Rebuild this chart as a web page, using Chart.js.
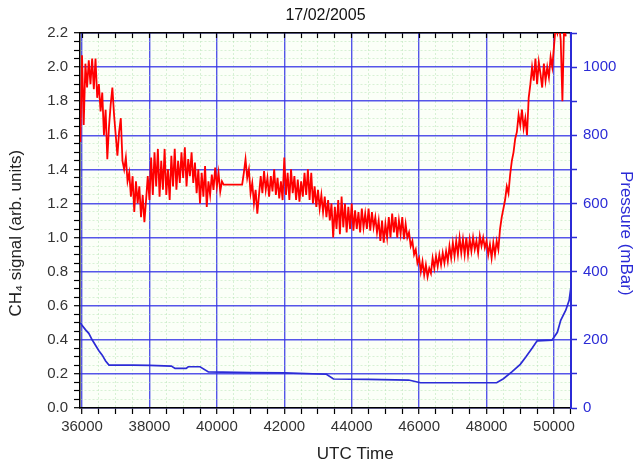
<!DOCTYPE html>
<html>
<head>
<meta charset="utf-8">
<script src="https://cdn.jsdelivr.net/npm/chart.js@4"></script>
<style>
  html, body { margin: 0; padding: 0; background: #fff; }
</style>
</head>
<body>
<canvas id="chart" width="644" height="465"></canvas>
<script>
/* ================================
   DATA
================================ */

// CH4 signal, one sample every 50 s starting at 35950 s
const CH4_START = 35950;
const CH4_STEP = 50;
const ch4 = [
  1.56,
  2.07, 1.66, 2.02, 1.88, 2.04, 1.90, 2.05, 1.87, 2.05, 1.82, 1.90, 1.74, 1.85, 1.60, 1.75, 1.46, 1.65, 1.78, 1.88, 1.72,
  1.60, 1.48, 1.62, 1.70, 1.45, 1.40, 1.47, 1.33, 1.38, 1.24, 1.36, 1.15, 1.33, 1.20, 1.30, 1.12, 1.25, 1.09, 1.22, 1.36,
  1.22, 1.47, 1.25, 1.50, 1.30, 1.52, 1.24, 1.45, 1.28, 1.52, 1.25, 1.40, 1.22, 1.48, 1.30, 1.52, 1.28, 1.45, 1.32, 1.50,
  1.35, 1.53, 1.30, 1.46, 1.36, 1.50, 1.32, 1.44, 1.26, 1.40, 1.20, 1.38, 1.24, 1.42, 1.18, 1.33, 1.25, 1.37, 1.28, 1.41,
  1.30, 1.38, 1.27, 1.33, 1.31, 1.31, 1.31, 1.31, 1.31, 1.31, 1.31, 1.31, 1.31, 1.31, 1.31, 1.31, 1.38, 1.46, 1.35, 1.40,
  1.26, 1.32, 1.20, 1.28, 1.14, 1.25, 1.36, 1.26, 1.39, 1.28, 1.35, 1.24, 1.36, 1.27, 1.40, 1.25, 1.35, 1.23, 1.33, 1.22,
  1.47, 1.25, 1.38, 1.22, 1.40, 1.26, 1.36, 1.22, 1.34, 1.21, 1.33, 1.24, 1.38, 1.25, 1.40, 1.22, 1.38, 1.20, 1.30, 1.18,
  1.28, 1.17, 1.25, 1.15, 1.24, 1.12, 1.22, 1.10, 1.20, 1.00, 1.18, 1.05, 1.22, 1.02, 1.24, 1.06, 1.20, 1.03, 1.18, 1.05,
  1.20, 1.04, 1.16, 1.05, 1.15, 1.03, 1.17, 1.06, 1.14, 1.05, 1.17, 1.04, 1.15, 1.06, 1.12, 1.03, 1.10, 0.98, 1.10, 0.97,
  1.08, 1.00, 1.12, 1.00, 1.14, 1.03, 1.12, 1.00, 1.10, 1.02, 1.12, 0.99, 1.08, 1.00, 1.03, 0.95, 0.98, 0.90, 0.93, 0.85,
  0.88, 0.80, 0.86, 0.78, 0.84, 0.77, 0.82, 0.79, 0.88, 0.82, 0.89, 0.83, 0.90, 0.84, 0.91, 0.85, 0.92, 0.86, 0.95, 0.88,
  0.97, 0.89, 0.98, 0.90, 1.00, 0.91, 0.99, 0.90, 1.00, 0.90, 0.99, 0.92, 1.00, 0.93, 0.98, 0.91, 1.01, 0.95, 1.00, 0.94,
  0.98, 0.90, 0.96, 0.88, 0.97, 0.90, 0.98, 0.93, 1.05, 1.12, 1.17, 1.22, 1.30, 1.26, 1.37, 1.45, 1.50, 1.58, 1.62, 1.72,
  1.66, 1.75, 1.64, 1.70, 1.60, 1.82, 1.90, 2.00, 1.92, 2.05, 1.90, 2.03, 1.96, 1.88, 2.02, 1.92, 2.00, 1.94, 2.06, 2.00,
  2.12, 2.24, 2.20, 2.26, 2.16, 1.80, 2.25, 2.18
];

// pressure (mBar) at its break points
const pTimes = [35950, 36000, 36100, 36200, 36300, 36400, 36500, 36600, 36700, 36800, 37500, 38000, 38650, 38760,
  39090, 39150, 39500, 39750, 41000, 42000, 43250, 43460, 44500, 45690, 46040, 48300, 48500, 48750, 49000, 49170,
  49350, 49500, 49940, 50100, 50200, 50350, 50450, 50510];
const pressure = [250, 243, 230, 219, 200, 184, 168, 155, 138, 126, 126, 125, 123, 116,
  116, 121, 121, 106, 104, 103, 99, 85, 84, 82, 74, 74, 86, 106, 128, 150,
  175, 197, 199, 222, 257, 287, 316, 360];

// axis ticks
const X_MIN = 35940, X_MAX = 50505;
const X_TICK_FIRST = 36000, X_TICK_STEP = 500, X_LABEL_STEP = 2000;
const Y_STEP_MINOR = 0.05, Y_STEP_LABEL = 0.2;
const P_STEP_TICK = 100, P_STEP_LABEL = 200;

const xTickValues = [];
for (let t = X_TICK_FIRST; t <= X_MAX; t += X_TICK_STEP) xTickValues.push(t);

/* ================================
   STYLE
================================ */

const FONT = "'Liberation Sans', Arial, sans-serif";
const BLUE = "#2b2bd6";
const GRID_BLUE = "rgba(55,55,230,0.85)";
const GRID_GREEN = "rgba(170,225,170,0.45)";

const isMult = (v, step) => Math.abs(v / step - Math.round(v / step)) < 1e-6;
const useXTicks = s => { s.ticks = xTickValues.map(v => ({ value: v })); };

const plotBg = {
  id: "plotBg",
  beforeDraw(chart) {
    const a = chart.chartArea, ctx = chart.ctx;
    ctx.save();
    ctx.fillStyle = "#fbfff8";
    ctx.fillRect(a.left, a.top, a.right - a.left, a.bottom - a.top);
    ctx.restore();
  }
};

Chart.defaults.font.family = FONT;

new Chart(document.getElementById("chart"), {
  type: "line",
  data: {
    datasets: [
      {
        data: ch4.map((v, i) => ({ x: CH4_START + i * CH4_STEP, y: v })),
        yAxisID: "y",
        borderColor: "#ff0000",
        borderWidth: 1.8,
        pointRadius: 0,
        tension: 0
      },
      {
        data: pTimes.map((t, i) => ({ x: t, y: pressure[i] })),
        yAxisID: "y2",
        borderColor: BLUE,
        borderWidth: 1.7,
        pointRadius: 0,
        tension: 0
      }
    ]
  },
  options: {
    responsive: false,
    animation: false,
    layout: { padding: { left: 4, right: 4, top: 0, bottom: 0 } },
    plugins: { legend: { display: false }, tooltip: { enabled: false } },
    scales: {
      x: {
        type: "linear",
        position: "bottom",
        min: X_MIN,
        max: X_MAX,
        afterFit: s => { s.height = 57; },
        afterBuildTicks: useXTicks,
        ticks: {
          autoSkip: false,
          maxRotation: 0,
          padding: 4,
          color: "#333",
          font: { size: 15 },
          callback: v => isMult(v, X_LABEL_STEP) ? String(v) : ""
        },
        grid: {
          color: c => isMult(c.tick.value, X_LABEL_STEP) ? GRID_BLUE : GRID_GREEN,
          lineWidth: c => isMult(c.tick.value, X_LABEL_STEP) ? 1.4 : 1,
          tickColor: "#000",
          tickLength: 6,
          tickWidth: 1.2
        },
        border: { color: "#000", width: 1.5, dash: c => isMult(c.tick.value, X_LABEL_STEP) ? [] : [2, 2] },
        title: {
          display: true,
          text: "\u2002\u2002\u2002\u2002\u2002\u2002\u2002UTC Time",
          color: "#222",
          font: { size: 17 },
          padding: { top: 0, bottom: 0 }
        }
      },
      xTop: {
        type: "linear",
        position: "top",
        min: X_MIN,
        max: X_MAX,
        afterFit: s => { s.height = 33; },
        afterBuildTicks: useXTicks,
        ticks: { display: false },
        grid: { drawOnChartArea: false, tickColor: "#000", tickLength: -5, tickWidth: 1.2 },
        border: { color: "#000", width: 1.5 },
        title: { display: true, text: "17/02/2005", color: "#111", font: { size: 16 }, padding: { top: 6, bottom: 0 } }
      },
      y: {
        position: "left",
        min: 0,
        max: 2.2,
        afterFit: s => { s.width = 76; },
        ticks: {
          stepSize: Y_STEP_MINOR,
          maxTicksLimit: 200,
          autoSkip: false,
          padding: 6,
          color: "#333",
          font: { size: 15 },
          callback: v => isMult(v, Y_STEP_LABEL) ? v.toFixed(1) : ""
        },
        grid: {
          color: c => isMult(c.tick.value, Y_STEP_LABEL) ? GRID_BLUE : GRID_GREEN,
          lineWidth: c => isMult(c.tick.value, Y_STEP_LABEL) ? 1.4 : 1,
          tickColor: "#000",
          tickLength: 6,
          tickWidth: 1.2
        },
        border: { color: "#000", width: 1.5, dash: c => isMult(c.tick.value, Y_STEP_LABEL) ? [] : [2, 2] },
        title: {
          display: true,
          text: "CH₄ signal (arb. units)\u2002\u2002\u2002",
          color: "#222",
          font: { size: 17 },
          padding: { top: 2, bottom: 4 }
        }
      },
      y2: {
        position: "right",
        min: 0,
        max: 1100,
        afterFit: s => { s.width = 69; },
        ticks: {
          stepSize: P_STEP_TICK,
          maxTicksLimit: 200,
          autoSkip: false,
          padding: 6,
          color: BLUE,
          font: { size: 15 },
          callback: v => isMult(v, P_STEP_LABEL) ? String(v) : ""
        },
        grid: { drawOnChartArea: false, tickColor: BLUE, tickLength: 6, tickWidth: 1.5 },
        border: { color: BLUE, width: 2 },
        title: {
          display: true,
          text: "\u2002\u2002\u2002Pressure (mBar)",
          color: BLUE,
          font: { size: 17 },
          padding: { top: 4, bottom: 2 }
        }
      }
    }
  },
  plugins: [plotBg]
});
</script>
</body>
</html>
